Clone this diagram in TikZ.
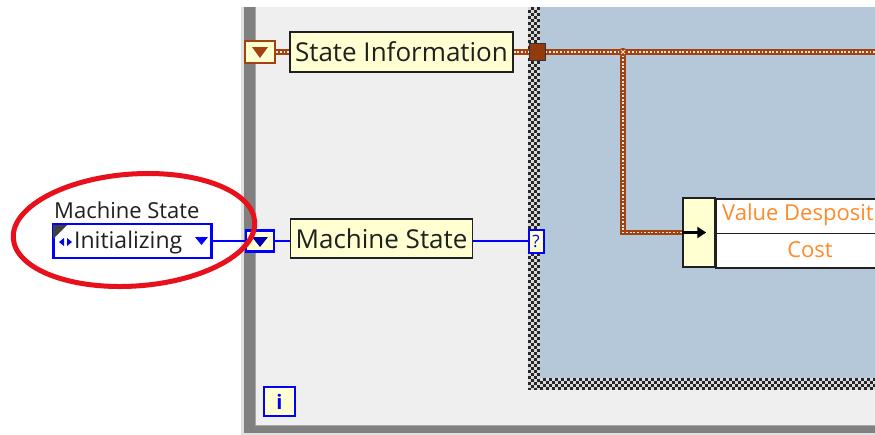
\documentclass[tikz,border=0pt]{standalone}
\usepackage{fontspec}
\setmainfont{Open Sans}
\usetikzlibrary{arrows.meta,calc}
\definecolor{loopgray}{HTML}{808080}
\definecolor{loopfill}{HTML}{EFEFEF}
\definecolor{casefill}{HTML}{B4C8DA}
\definecolor{lvyellow}{HTML}{FFFFD2}
\definecolor{clusterbrown}{HTML}{A3420F}
\definecolor{lvblue}{RGB}{0,0,255}
\definecolor{lvorange}{HTML}{FF8A2A}
\definecolor{ellred}{HTML}{E8101A}
\definecolor{textdark}{HTML}{202020}
\tikzset{
  labelbox/.style={draw=textdark, line width=1.5pt, fill=lvyellow, inner sep=0pt,
    font=\fontsize{26}{30}\selectfont, text=textdark},
  clusterwire/.style={draw=clusterbrown, line width=5.5pt,
    postaction={draw=white!88!clusterbrown, line width=1.8pt, dash pattern=on 1.8pt off 1.8pt}},
  enumwire/.style={draw=lvblue, color=lvblue, line width=2pt},
  bluebox/.style={draw=lvblue, line width=2.8pt, fill=lvyellow, inner sep=0pt},
  bundlecell/.style={draw=textdark, line width=1.5pt, fill=white, inner sep=0pt,
    minimum width=200pt, minimum height=34.5pt},
  checkline/.style={draw=white!85!black, line width=3pt, dash pattern=on 3pt off 3pt},
}
\begin{document}
\begin{tikzpicture}[x=1pt,y=-1pt]
\useasboundingbox (0,0) rectangle (875,434);
\clip (0,0) rectangle (875,434);
\fill[white] (0,0) rectangle (875,434);
% while loop frame
\fill[black!12] (241,7) rectangle (875,435);
\fill[loopgray] (244,7) rectangle (875,433);
\fill[loopfill] (255,7) rectangle (875,425);
\draw[black!35, line width=1pt] (255,7) -- (255,425) -- (875,425);
% case structure border (checkered)
\fill[black!85] (528,7) rectangle (875,390);
\draw[checkline] (529.5,7) -- (529.5,390);
\draw[checkline, dash phase=3pt] (532.5,7) -- (532.5,390);
\draw[checkline] (535.5,7) -- (535.5,390);
\draw[checkline, dash phase=3pt] (538.5,7) -- (538.5,390);
\draw[checkline] (540,379.5) -- (875,379.5);
\draw[checkline, dash phase=3pt] (540,382.5) -- (875,382.5);
\draw[checkline] (540,385.5) -- (875,385.5);
\draw[checkline, dash phase=3pt] (540,388.5) -- (875,388.5);
\fill[casefill] (540,7) rectangle (875,378);
% State information
\node[labelbox, minimum width=223pt, minimum height=40pt] (stateinfo) at (401.5,52) {State Information};
\node[draw=clusterbrown, line width=2.8pt, fill=lvyellow, minimum width=30pt, minimum height=22pt, inner sep=0pt] (statesr) at (260,52) {};
\fill[clusterbrown] (252,47) -- (268,47) -- (260,58) -- cycle;
\node[draw=black!80, line width=1pt, fill=clusterbrown!90!black, minimum width=16pt, minimum height=17pt, inner sep=0pt] (statetunnel) at (537,52) {};
\coordinate (junction) at (623,52);
\coordinate (rightend) at (880,52);
% bundle node
\node[draw=textdark, line width=1.5pt, fill=lvyellow, minimum width=32pt, minimum height=69pt, inner sep=0pt] (bundleleft) at (699,232.5) {};
\node[bundlecell, anchor=north west] (bundletop) at (715,198) {};
\node[bundlecell, anchor=north west] (bundlebot) at (715,232.5) {};
\node[anchor=west, font=\fontsize{22}{26}\selectfont, text=lvorange, inner sep=0pt] (vdtext) at (722,215) {Value Desposit};
\node[font=\fontsize{22}{26}\selectfont, text=lvorange, inner sep=0pt] (costtext) at (810,250) {Cost};
\draw[line width=3pt, -{Triangle[length=9pt,width=11pt]}] (bundleleft.west) -- ++(24,0);
% cluster wires
\draw[clusterwire] (statesr.east) -- (stateinfo.west);
\draw[clusterwire] (stateinfo.east) -- (statetunnel.west);
\draw[clusterwire] (junction) |- (bundleleft.west);
\draw[clusterwire] (statetunnel.east) -- (rightend);
\fill[clusterbrown] (junction) circle (4.2pt);
\draw[white!85!clusterbrown, line width=0.9pt] ($(junction)+(-2,-2)$) -- ($(junction)+(2,2)$) ($(junction)+(-2,2)$) -- ($(junction)+(2,-2)$);
% machine state
\node[labelbox, minimum width=182pt, minimum height=39pt] (msnode) at (381.5,238.5) {Machine State};
\node[draw=lvblue, line width=2pt, fill=lvyellow, minimum width=15pt, minimum height=23pt, inner sep=0pt, text=lvblue, font=\fontsize{17}{20}\selectfont] (selector) at (536,241) {?};
\node[bluebox, minimum width=28pt, minimum height=21pt] (mssr) at (260,241) {};
\fill[lvblue!70!black] (252,237) -- (268,237) -- (260,247) -- cycle;
% control
\node[anchor=south west, font=\fontsize{22}{26}\selectfont, text=textdark, inner sep=0pt] (ctrllabel) at (54,219) {Machine State};
\node[draw=lvblue, line width=2.8pt, fill=white, minimum width=158pt, minimum height=34pt, inner sep=0pt] (ctrl) at (132.5,241) {};
\fill[black!75] (53,225) -- (67,225) -- (53,239) -- cycle;
\fill[lvblue] (59,242) -- (64,238) -- (64,246) -- cycle;
\fill[lvblue] (72,242) -- (67,238) -- (67,246) -- cycle;
\node[anchor=west, font=\fontsize{23}{26}\selectfont, text=textdark, inner sep=0pt] (ctrltext) at (74,243) {Initializing};
\fill[lvblue] (195,237) -- (208,237) -- (201.5,245) -- cycle;
% enum wires
\draw[enumwire] (ctrl.east) -- (mssr.west);
\draw[enumwire] (mssr.east) -- (mssr.east -| msnode.west);
\draw[enumwire] (selector.west -| msnode.east) -- (selector.west);
% info box
\node[bluebox, minimum width=31pt, minimum height=29pt, text=lvblue, font=\bfseries\fontsize{20}{24}\selectfont] (infobox) at (279.5,401.5) {i};
% red ellipse
\draw[ellred, line width=5pt, rotate around={4:(134,230)}] (134,230) ellipse [x radius=121pt, y radius=56pt];
\end{tikzpicture}
\end{document}
